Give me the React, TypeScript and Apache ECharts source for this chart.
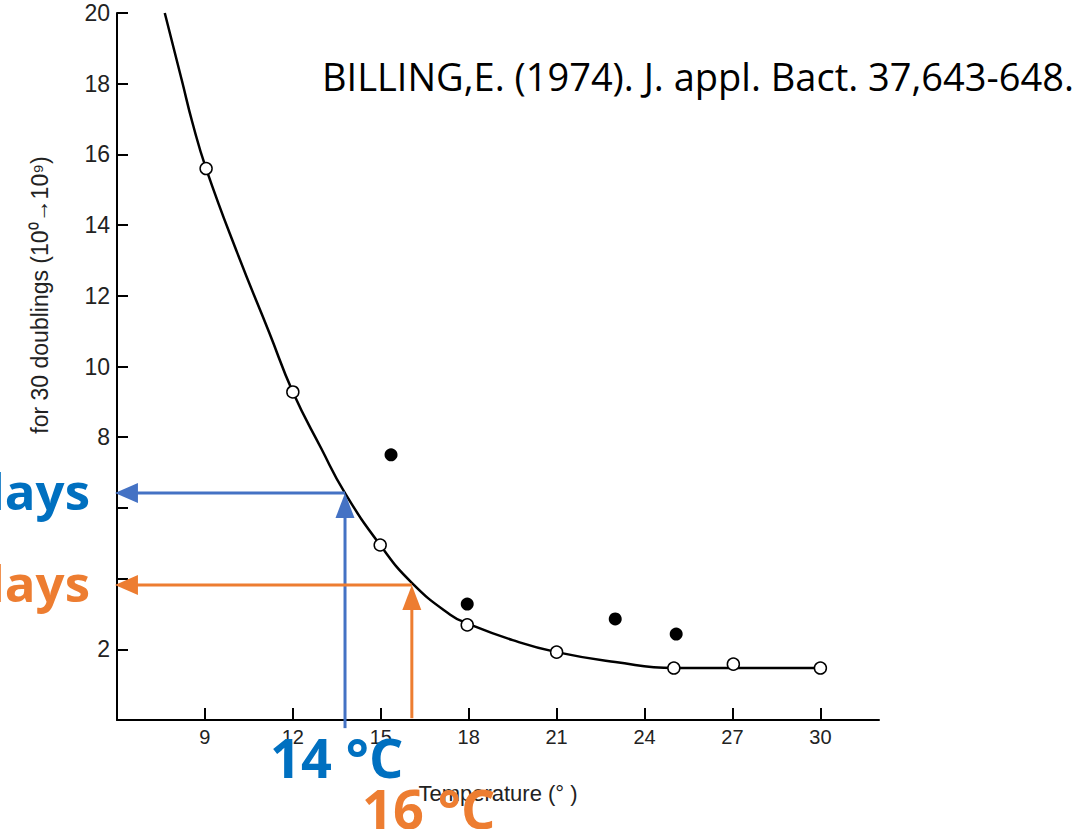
import React, { useEffect, useRef } from "react";
import * as echarts from "echarts";

// Axis ticks / labels
const tempTicks = [9, 12, 15, 18, 21, 24, 27, 30];
const dayTicks = [2, 4, 6, 8, 10, 12, 14, 16, 18, 20];
const dayLabels = [2, 8, 10, 12, 14, 16, 18, 20];

// Fitted curve
const curveTemps = [7.63, 8.22, 8.57, 9.04, 10.11, 11.2, 12.0, 12.97, 13.78, 14.98, 16.06, 17.37, 18.0, 19.5, 21.0, 23.0, 25.0, 27.0, 30.0];
const curveDays = [20, 18.07, 16.91, 15.6, 13.2, 10.95, 9.28, 7.68, 6.42, 4.95, 3.88, 2.98, 2.72, 2.26, 1.92, 1.64, 1.47, 1.47, 1.47];

// Open circles
const openTemps = [9.04, 12.0, 14.98, 17.95, 21.0, 25.0, 27.03, 30.0];
const openDays = [15.6, 9.28, 4.95, 2.69, 1.92, 1.47, 1.58, 1.47];

// Filled circles
const filledTemps = [15.35, 17.95, 23.0, 25.08];
const filledDays = [7.5, 3.28, 2.86, 2.43];

// Read-off arrows (blue, orange)
const arrowTemps = [13.78, 16.06];
const arrowDays = [6.42, 3.82];
const arrowBottoms = [-0.23, 0.05];
const arrowTipTemp = 5.93;

const tempLabels = ["14 °C", "16 °C"];
const dayTexts = ["days", "days"];
const citation = "BILLING,E. (1974). J. appl. Bact. 37,643-648.";
const yName = "for 30 doublings (10⁰→10⁹)";
const xName = "Temperature (° )";

export default function App() {
  const ref = useRef<HTMLDivElement>(null);

  useEffect(() => {
    if (!ref.current) return;
    const chart = echarts.init(ref.current, null, { renderer: "svg" });
    const tickFont = {
      color: "#222",
      fontFamily: "Liberation Sans",
    };
    chart.setOption({
      animation: false,
      backgroundColor: "#fff",
      grid: { left: 117, right: 197, top: 13, bottom: 109, containLabel: false },
      xAxis: {
        type: "value",
        min: 6,
        max: 32,
        interval: 3,
        splitLine: { show: false },
        axisLine: { show: true, lineStyle: { color: "#000", width: 2 } },
        axisTick: {
          show: true,
          inside: true,
          length: 12,
          lineStyle: { color: "#000", width: 2 },
          customValues: tempTicks,
        },
        axisLabel: { ...tickFont, fontSize: 20, margin: 7, customValues: tempTicks },
      },
      yAxis: {
        type: "value",
        min: 0,
        max: 20,
        interval: 2,
        splitLine: { show: false },
        axisLine: { show: true, lineStyle: { color: "#000", width: 2 } },
        axisTick: {
          show: true,
          inside: true,
          length: 11,
          lineStyle: { color: "#000", width: 2 },
          customValues: dayTicks,
        },
        axisLabel: { ...tickFont, fontSize: 23, margin: 7, customValues: dayLabels },
      },
      series: [
        {
          type: "line",
          data: curveTemps.map((t, i) => [t, curveDays[i]]),
          smooth: 0.5,
          symbol: "none",
          lineStyle: { color: "#000", width: 2.5 },
          z: 3,
        },
        {
          type: "scatter",
          data: openTemps.map((t, i) => [t, openDays[i]]),
          symbol: "circle",
          symbolSize: 12,
          itemStyle: { color: "#fff", borderColor: "#000", borderWidth: 1.5, opacity: 1 },
          z: 4,
        },
        {
          type: "scatter",
          data: filledTemps.map((t, i) => [t, filledDays[i]]),
          symbol: "circle",
          symbolSize: 13,
          itemStyle: { color: "#000", opacity: 1 },
          z: 4,
        },
      ],
    });

    const colors = ["#4472C4", "#ED7D31"];
    const textColors = ["#0070C0", "#ED7D31"];
    const graphics: any[] = [];
    arrowTemps.forEach((t, i) => {
      const top = chart.convertToPixel({ gridIndex: 0 }, [t, arrowDays[i]]) as number[];
      const bottom = chart.convertToPixel({ gridIndex: 0 }, [t, arrowBottoms[i]]) as number[];
      const tip = chart.convertToPixel({ gridIndex: 0 }, [arrowTipTemp, arrowDays[i]]) as number[];
      const c = colors[i];
      graphics.push({
        type: "line",
        z: 10,
        shape: { x1: bottom[0], y1: bottom[1], x2: top[0], y2: top[1] + 20 },
        style: { stroke: c, lineWidth: 3 },
      });
      graphics.push({
        type: "polygon",
        z: 10,
        shape: {
          points: [
            [top[0], top[1]],
            [top[0] - 9.5, top[1] + 25],
            [top[0] + 9.5, top[1] + 25],
          ],
        },
        style: { fill: c },
      });
      graphics.push({
        type: "line",
        z: 10,
        shape: { x1: top[0], y1: top[1], x2: tip[0] + 20, y2: tip[1] },
        style: { stroke: c, lineWidth: 3 },
      });
      graphics.push({
        type: "polygon",
        z: 10,
        shape: {
          points: [
            [tip[0], tip[1]],
            [tip[0] + 23, tip[1] - 10],
            [tip[0] + 23, tip[1] + 10],
          ],
        },
        style: { fill: c },
      });
      // "days" label left of the arrow tip
      graphics.push({
        type: "text",
        z: 20,
        x: 90,
        y: top[1] - 3,
        style: {
          text: dayTexts[i],
          fill: textColors[i],
          fontFamily: "Open Sans",
          fontWeight: "bold",
          fontSize: 51,
          align: "right",
          verticalAlign: "middle",
        },
      });
    });

    graphics.push({
      type: "text",
      z: 20,
      x: 270,
      y: 757,
      style: {
        text: tempLabels[0],
        fill: textColors[0],
        fontFamily: "Open Sans",
        fontWeight: "bold",
        fontSize: 54,
        align: "left",
        verticalAlign: "middle",
      },
    });
    graphics.push({
      type: "text",
      z: 5,
      x: 498,
      y: 793,
      style: {
        text: xName,
        fill: "#222",
        fontFamily: "Liberation Sans",
        fontSize: 22,
        align: "center",
        verticalAlign: "middle",
      },
    });
    graphics.push({
      type: "text",
      z: 20,
      x: 362,
      y: 808,
      style: {
        text: tempLabels[1],
        fill: textColors[1],
        fontFamily: "Open Sans",
        fontWeight: "bold",
        fontSize: 54,
        align: "left",
        verticalAlign: "middle",
      },
    });
    graphics.push({
      type: "text",
      z: 5,
      x: 40,
      y: 295,
      rotation: Math.PI / 2,
      style: {
        text: yName,
        fill: "#222",
        fontFamily: "Liberation Sans",
        fontSize: 23,
        align: "center",
        verticalAlign: "middle",
      },
    });
    graphics.push({
      type: "text",
      z: 5,
      x: 322,
      y: 76,
      style: {
        text: citation,
        fill: "#000",
        fontFamily: "Open Sans",
        fontSize: 38,
        align: "left",
        verticalAlign: "middle",
      },
    });

    chart.setOption({ graphic: graphics });

    return () => chart.dispose();
  }, []);

  return (
    <div
      ref={ref}
      style={{ position: "fixed", left: 0, top: 0, width: 1076, height: 829 }}
    />
  );
}
